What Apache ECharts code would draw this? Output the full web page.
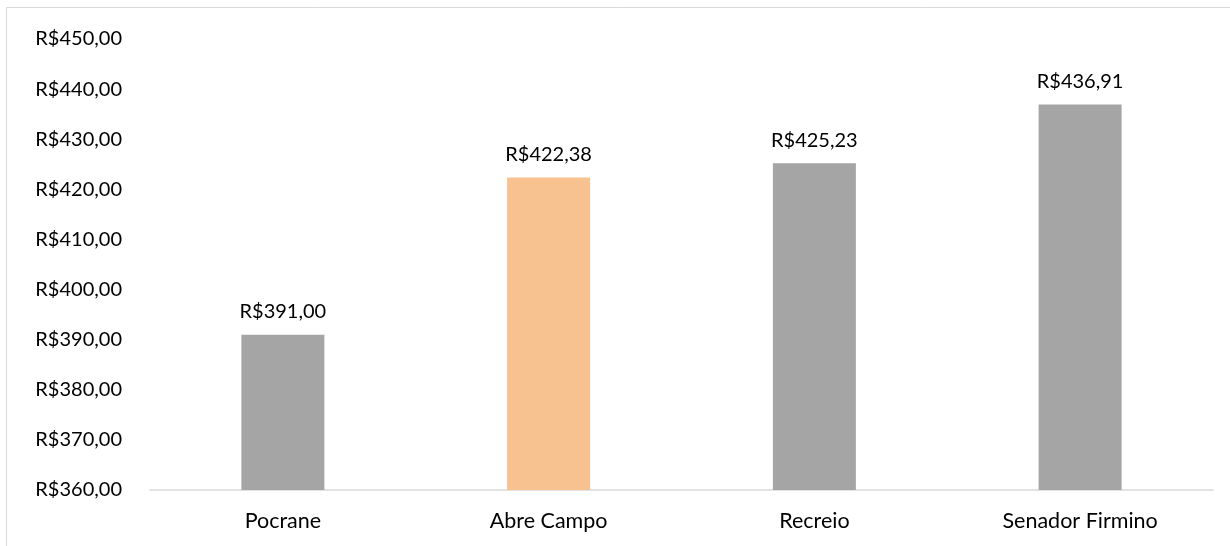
<!DOCTYPE html>
<html>
<head>
    <meta charset="UTF-8">
    <title>Preço por município</title>
    <script src="https://cdn.jsdelivr.net/npm/echarts@6/dist/echarts.min.js"></script>
    <style>
        html, body { margin: 0; padding: 0; background: #fff; }
        #main { width: 1230px; height: 546px; }
    </style>
</head>
<body>
    <div id="main"></div>
    <script type="text/javascript">
        var cidades = ['Pocrane', 'Abre Campo', 'Recreio', 'Senador Firmino'];
        var valores = [391.00, 422.38, 425.23, 436.91];
        var destaque = 'Abre Campo';

        var fonte = 'Lato';

        function moeda(v) {
            return 'R$' + v.toFixed(2).replace('.', ',');
        }

        var myChart = echarts.init(document.getElementById('main'));

        myChart.setOption({
            animation: false,
            textStyle: { fontFamily: fonte },
            graphic: [{
                type: 'rect',
                shape: { x: 6.5, y: 7.5, width: 1300, height: 600 },
                style: { fill: 'none', stroke: '#d9d9d9', lineWidth: 1 },
                silent: true
            }],
            grid: { left: 150, right: 17, top: 39, bottom: 56 },
            xAxis: {
                type: 'category',
                data: cidades,
                axisLine: { lineStyle: { color: '#d9d9d9', width: 1.5 } },
                axisTick: { show: false },
                axisLabel: { color: '#000', fontSize: 21.5, margin: 20, fontFamily: fonte }
            },
            yAxis: {
                type: 'value',
                min: 360,
                max: 450,
                interval: 10,
                splitLine: { show: false },
                axisLine: { show: false },
                axisTick: { show: false },
                axisLabel: {
                    color: '#000', fontSize: 20, margin: 28, fontFamily: fonte,
                    formatter: function (v) { return moeda(v); }
                }
            },
            series: [{
                type: 'bar',
                barWidth: 83,
                data: valores.map(function (v, i) {
                    return {
                        value: v,
                        itemStyle: { color: cidades[i] === destaque ? '#f8c190' : '#a5a5a5' }
                    };
                }),
                label: {
                    show: true,
                    position: 'top',
                    distance: 13,
                    color: '#000',
                    fontSize: 20,
                    fontFamily: fonte,
                    formatter: function (p) { return moeda(p.value); }
                }
            }]
        });
    </script>
</body>
</html>
